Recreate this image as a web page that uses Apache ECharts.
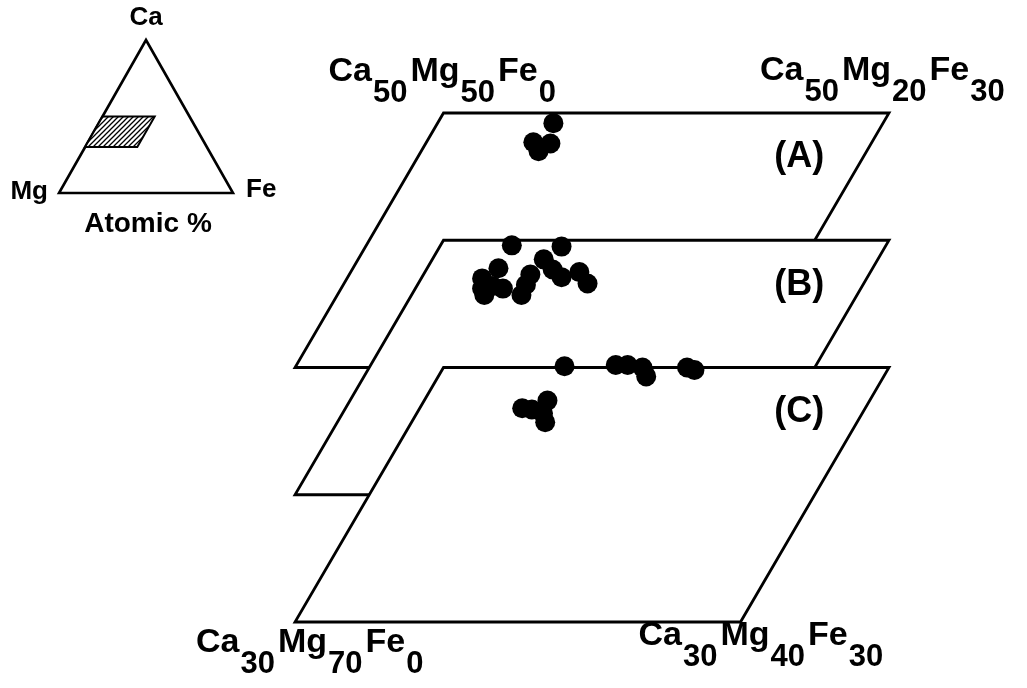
<!DOCTYPE html>
<html><head><meta charset="utf-8">
<script src="https://cdn.jsdelivr.net/npm/echarts@6/dist/echarts.min.js"></script>
<style>html,body{margin:0;padding:0;background:#fff}#c{width:1027px;height:688px}</style>
</head><body><div id="c"></div>
<script>
// ---------- data ----------
const planeNames = ['(A)', '(B)', '(C)'];
const feRange = [0, 30];   // Fe atomic % across each plane
const caRange = [30, 50];  // Ca atomic % front-to-back of each plane

const planeA_Fe = [7.8, 7.2, 8.4, 7.9];
const planeA_Ca = [49.2, 47.7, 47.6, 47.0];

const planeB_Fe = [4.8, 8.2, 7.5, 4.8, 4.1, 4.9, 5.1, 5.9, 7.2, 7.3, 7.4, 8.5, 9.4, 10.4, 11.4, 4.5];
const planeB_Ca = [49.6, 49.5, 48.5, 47.8, 47.0, 45.7, 46.4, 46.2, 47.3, 46.5, 45.7, 47.7, 47.1, 47.5, 46.6, 46.2];

const planeC_Fe = [8.1, 11.5, 12.3, 13.4, 14.0, 16.4, 17.0, 6.9, 7.6, 8.3, 8.5, 9.0];
const planeC_Ca = [50.1, 50.2, 50.2, 50.0, 49.3, 50.0, 49.8, 46.8, 46.7, 47.4, 46.4, 45.7];

const cornerTopLeft = [['Ca', '50'], ['Mg', '50'], ['Fe', '0']];
const cornerTopRight = [['Ca', '50'], ['Mg', '20'], ['Fe', '30']];
const cornerBottomLeft = [['Ca', '30'], ['Mg', '70'], ['Fe', '0']];
const cornerBottomRight = [['Ca', '30'], ['Mg', '40'], ['Fe', '30']];

const insetCorners = ['Ca', 'Mg', 'Fe'];
const insetTitle = 'Atomic %';

// ---------- helpers ----------
const FONT = '"Liberation Sans", Arial, sans-serif';
const measureCtx = document.createElement('canvas').getContext('2d');
function textW(t, size) { measureCtx.font = 'bold ' + size + 'px ' + FONT; return measureCtx.measureText(t).width; }

// oblique projection of a composition on stacked plane p
function proj(fe, ca, p) { return [fe + 0.5 * (ca - 50), ca - 10 * p]; }

function formula(parts, x0, yc) {
  const out = [];
  let x = x0;
  const MS = 34, SS = 31;
  parts.forEach(([el, sub]) => {
    out.push({ type: 'text', x: x, y: yc, style: { text: el, fontSize: MS, fontWeight: 'bold', fontFamily: FONT, fill: '#000', align: 'left', verticalAlign: 'middle' } });
    x += textW(el, MS) + 1;
    out.push({ type: 'text', x: x, y: yc + 21, style: { text: sub, fontSize: SS, fontWeight: 'bold', fontFamily: FONT, fill: '#000', align: 'left', verticalAlign: 'middle' } });
    x += textW(sub, SS) + 3;
  });
  return out;
}

// hatch pattern
const hatch = document.createElement('canvas');
hatch.width = 5; hatch.height = 5;
(function () {
  const g = hatch.getContext('2d');
  g.fillStyle = '#fff'; g.fillRect(0, 0, 5, 5);
  g.strokeStyle = '#000'; g.lineWidth = 1.3;
  g.beginPath();
  g.moveTo(-1, 6); g.lineTo(6, -1);
  g.moveTo(-1, 1); g.lineTo(1, -1);
  g.moveTo(4, 6); g.lineTo(6, 4);
  g.stroke();
})();

const planeData = [
  [planeA_Fe, planeA_Ca],
  [planeB_Fe, planeB_Ca],
  [planeC_Fe, planeC_Ca]
];

const series = [];
planeData.forEach(([fe, ca], p) => {
  series.push({
    type: 'custom', xAxisIndex: 0, yAxisIndex: 0, z: 2 * p + 1, clip: false, silent: true,
    data: [[p]],
    renderItem: function (params, api) {
      const pl = api.value(0);
      const corners = [[feRange[0], caRange[1]], [feRange[1], caRange[1]], [feRange[1], caRange[0]], [feRange[0], caRange[0]]]
        .map(([f, c]) => api.coord(proj(f, c, pl)));
      const lab = api.coord(proj(25.7, 46.5, pl));
      const children = [
        { type: 'polygon', shape: { points: corners }, style: { fill: '#fff', stroke: '#000', lineWidth: 2.8, lineJoin: 'miter' } },
        { type: 'text', x: lab[0], y: lab[1], style: { text: planeNames[pl], fontSize: 36, fontWeight: 'bold', fontFamily: FONT, fill: '#000', align: 'center', verticalAlign: 'middle' } }
      ];
      if (pl === 0) {
        children.push(...formula(cornerTopLeft, corners[0][0] - 115, corners[0][1] - 41));
        children.push(...formula(cornerTopRight, corners[1][0] - 129, corners[1][1] - 42));
      }
      if (pl === 2) {
        children.push(...formula(cornerBottomLeft, corners[3][0] - 99, corners[3][1] + 21));
        children.push(...formula(cornerBottomRight, corners[2][0] - 102, corners[2][1] + 14));
      }
      return { type: 'group', children: children };
    }
  });
  series.push({
    type: 'scatter', xAxisIndex: 0, yAxisIndex: 0, z: 2 * p + 2, clip: false, silent: true,
    symbol: 'circle', symbolSize: 20,
    itemStyle: { color: '#000', opacity: 1 },
    data: fe.map((f, i) => proj(f, ca[i], p))
  });
});

// inset ternary
function tern(ca, fe) { return [fe + 0.5 * ca, ca]; }
series.push({
  type: 'custom', xAxisIndex: 1, yAxisIndex: 1, z: 10, clip: false, silent: true,
  data: [[0]],
  renderItem: function (params, api) {
    const top = api.coord(tern(1, 0)), left = api.coord(tern(0, 0)), right = api.coord(tern(0, 1));
    const para = [[caRange[1], feRange[0]], [caRange[1], feRange[1]], [caRange[0], feRange[1]], [caRange[0], feRange[0]]]
      .map(([c, f]) => api.coord(tern(c / 100, f / 100)));
    const ts = { fontSize: 26, fontWeight: 'bold', fontFamily: FONT, fill: '#000', verticalAlign: 'middle' };
    return {
      type: 'group', children: [
        { type: 'polygon', shape: { points: [top, left, right] }, style: { fill: 'none', stroke: '#000', lineWidth: 2.6, lineJoin: 'miter' } },
        { type: 'polygon', shape: { points: para }, style: { fill: { image: hatch, repeat: 'repeat' }, stroke: '#000', lineWidth: 2 } },
        { type: 'text', x: top[0], y: top[1] - 22, style: Object.assign({ text: insetCorners[0], align: 'center' }, ts) },
        { type: 'text', x: left[0] - 11, y: left[1] - 1, style: Object.assign({ text: insetCorners[1], align: 'right' }, ts) },
        { type: 'text', x: right[0] + 13, y: right[1] - 3, style: Object.assign({ text: insetCorners[2], align: 'left' }, ts) },
        { type: 'text', x: (left[0] + right[0]) / 2 + 2, y: left[1] + 31, style: Object.assign({ text: insetTitle, align: 'center' }, ts, { fontSize: 28 }) }
      ]
    };
  }
});

const chart = echarts.init(document.getElementById('c'), null, { renderer: 'canvas' });
chart.setOption({
  animation: false,
  backgroundColor: '#fff',
  grid: [
    { left: 295, right: 138, top: 113, bottom: 66 },
    { left: 59, right: 794, top: 40, bottom: 495 }
  ],
  xAxis: [
    { type: 'value', min: -10, max: 30, show: false, gridIndex: 0 },
    { type: 'value', min: 0, max: 1, show: false, gridIndex: 1 }
  ],
  yAxis: [
    { type: 'value', min: 10, max: 50, show: false, gridIndex: 0 },
    { type: 'value', min: 0, max: 1, show: false, gridIndex: 1 }
  ],
  series: series
});
</script>
</body></html>
